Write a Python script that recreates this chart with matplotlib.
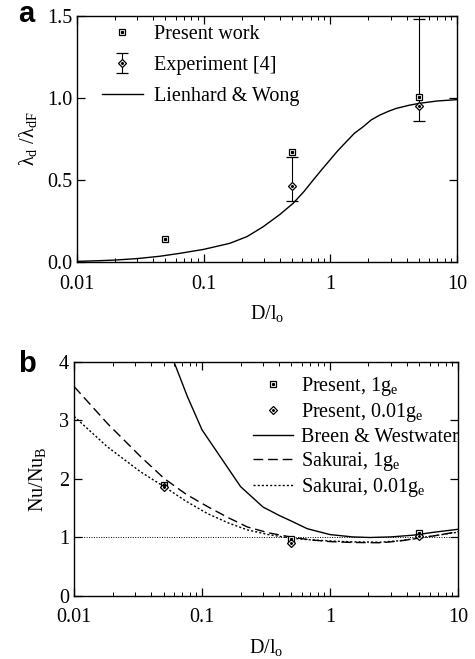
import matplotlib
matplotlib.use("Agg")
import matplotlib.pyplot as plt
from matplotlib.ticker import LogLocator, NullFormatter, FixedLocator
from matplotlib.legend_handler import HandlerTuple

plt.rcParams["font.family"] = ["Liberation Serif", "DejaVu Serif"]
plt.rcParams["mathtext.fontset"] = "custom"
plt.rcParams["mathtext.rm"] = "Liberation Serif"
plt.rcParams["mathtext.it"] = "Liberation Serif:italic"
FS = 14.5

# ── Panel a data ──────────────────────────────────────────────────────────────
present_x = [0.05, 0.5, 5.0]
present_y = [0.14, 0.673, 1.004]

exp_x = [0.5, 5.0]
exp_y = [0.463, 0.951]
exp_lo = [0.372, 0.862]
exp_hi = [0.642, 1.48]

lw_x = [0.01, 0.015, 0.02, 0.03, 0.045, 0.065, 0.1, 0.161, 0.22, 0.295, 0.4, 0.509,
        0.62, 0.733, 0.86, 0.993, 1.15, 1.34, 1.55, 1.82, 2.1, 2.46, 2.9, 3.33,
        4.2, 5.09, 7.0, 10.0]
lw_y = [0.004, 0.008, 0.012, 0.021, 0.035, 0.053, 0.077, 0.114, 0.155, 0.215, 0.29,
        0.358, 0.43, 0.50, 0.565, 0.622, 0.68, 0.734, 0.785, 0.825, 0.866, 0.896,
        0.92, 0.937, 0.956, 0.968, 0.982, 0.99]

# ── Panel b data ──────────────────────────────────────────────────────────────
p1_x = [0.05, 0.5, 5.0]
p1_y = [1.90, 0.97, 1.08]
p001_x = [0.05, 0.5, 5.0]
p001_y = [1.87, 0.91, 1.02]

bw_x = [0.0604, 0.0768, 0.1, 0.2, 0.3, 0.407, 0.5, 0.665, 1.0, 1.5, 2.05, 3.0, 4.48,
        6.5, 10.0]
bw_y = [4.0, 3.41, 2.84, 1.87, 1.52, 1.37, 1.28, 1.15, 1.05, 1.01, 1.0, 1.01, 1.04,
        1.09, 1.14]

sk1_x = [0.01, 0.0182, 0.0332, 0.0505, 0.075, 0.11, 0.16, 0.226, 0.33, 0.49, 0.7,
         1.0, 1.5, 2.5, 3.5, 5.0, 7.0, 10.0]
sk1_y = [3.58, 2.95, 2.38, 2.01, 1.74, 1.53, 1.34, 1.18, 1.08, 1.01, 0.96, 0.93,
         0.915, 0.91, 0.94, 0.99, 1.04, 1.10]

sk001_x = [0.01, 0.0182, 0.0332, 0.0505, 0.075, 0.11, 0.16, 0.226, 0.33, 0.49, 0.7,
           1.0, 1.5, 2.5, 3.5, 5.0, 7.0, 10.0]
sk001_y = [3.07, 2.55, 2.12, 1.87, 1.62, 1.41, 1.25, 1.13, 1.05, 0.99, 0.96, 0.94,
           0.925, 0.92, 0.945, 0.99, 1.04, 1.09]


def style_axis(ax):
    ax.set_xscale("log")
    ax.set_xlim(0.01, 10)
    ax.xaxis.set_major_locator(FixedLocator([0.01, 0.1, 1, 10]))
    ax.set_xticklabels(["0.01", "0.1", "1", "10"])
    ax.xaxis.set_minor_locator(LogLocator(base=10, subs=range(2, 10)))
    ax.xaxis.set_minor_formatter(NullFormatter())
    ax.tick_params(which="both", direction="in", top=True, right=True, labelsize=FS)
    ax.tick_params(which="major", length=6, width=0.9)
    ax.tick_params(which="minor", length=3, width=0.7)
    ax.tick_params(axis="x", pad=9)
    for s in ax.spines.values():
        s.set_linewidth(1.0)
    ax.set_xlabel("D/l$_\\mathrm{o}$", fontsize=FS, labelpad=7)


fig = plt.figure(figsize=(4.75, 6.59), dpi=100)
ax1 = fig.add_axes([0.162, 0.6024, 0.80, 0.3733])
ax2 = fig.add_axes([0.156, 0.0956, 0.808, 0.3551])

tuple_handler = {tuple: HandlerTuple(ndivide=1, pad=0)}

# ── Panel a ───────────────────────────────────────────────────────────────────
sq_out, = ax1.plot(present_x, present_y, ls="none", marker="s", ms=4.6,
                   mfc="white", mec="black", mew=0.9, zorder=4)
sq_in, = ax1.plot(present_x, present_y, ls="none", marker="s", ms=1.3,
                  color="black", zorder=5)
yerr = [[y - lo for y, lo in zip(exp_y, exp_lo)], [hi - y for y, hi in zip(exp_y, exp_hi)]]
eb = ax1.errorbar(exp_x, exp_y, yerr=yerr, fmt="D", ms=3.8, mfc="white", mec="black",
                  mew=0.9, ecolor="black", elinewidth=0.8, capsize=4, capthick=0.8, zorder=3)
dm_in, = ax1.plot(exp_x, exp_y, ls="none", marker="D", ms=1.1, color="black", zorder=5)
line_lw, = ax1.plot(lw_x, lw_y, color="black", lw=1.0)

ax1.set_ylim(0, 1.5)
style_axis(ax1)
ax1.yaxis.set_major_locator(FixedLocator([0, 0.5, 1.0, 1.5]))
ax1.set_yticklabels(["0.0", "0.5", "1.0", "1.5"])
ax1.set_ylabel("λ$_\\mathrm{d}$ /λ$_\\mathrm{dF}$", fontsize=FS, labelpad=6)
ax1.legend([(sq_out, sq_in), (eb, dm_in), line_lw],
           ["Present work", "Experiment [4]", "Lienhard & Wong"],
           handler_map=tuple_handler,
           loc="upper left", bbox_to_anchor=(0.019, 1.037), frameon=False,
           fontsize=FS, handlelength=2.0, handletextpad=0.55, labelspacing=0.6)

# ── Panel b ───────────────────────────────────────────────────────────────────
ax2.axhline(1.0, color="black", lw=0.7, ls=(0, (1, 1.5)), zorder=1)
p1_out, = ax2.plot(p1_x, p1_y, ls="none", marker="s", ms=4.3, mfc="white", mec="black",
                   mew=0.9, zorder=4)
p1_in, = ax2.plot(p1_x, p1_y, ls="none", marker="s", ms=1.2, color="black", zorder=5)
p2_out, = ax2.plot(p001_x, p001_y, ls="none", marker="D", ms=3.6, mfc="white",
                   mec="black", mew=0.9, zorder=4)
p2_in, = ax2.plot(p001_x, p001_y, ls="none", marker="D", ms=1.0, color="black", zorder=5)
bw_line, = ax2.plot(bw_x, bw_y, color="black", lw=1.0)
sk1_line, = ax2.plot(sk1_x, sk1_y, color="black", lw=1.0, ls=(0, (7, 3.5)))
sk2_line, = ax2.plot(sk001_x, sk001_y, color="black", lw=1.0, ls=(0, (1.5, 1.5)))

ax2.set_ylim(0, 4)
style_axis(ax2)
ax2.yaxis.set_major_locator(FixedLocator([0, 1, 2, 3, 4]))
ax2.set_ylabel("Nu/Nu$_\\mathrm{B}$", fontsize=FS, labelpad=8)
ax2.legend([(p1_out, p1_in), (p2_out, p2_in), bw_line, sk1_line, sk2_line],
           ["Present, 1g$_\\mathrm{e}$", "Present, 0.01g$_\\mathrm{e}$", "Breen & Westwater",
            "Sakurai, 1g$_\\mathrm{e}$", "Sakurai, 0.01g$_\\mathrm{e}$"],
           handler_map=tuple_handler,
           loc="upper left", bbox_to_anchor=(0.419, 1.02), frameon=False,
           fontsize=FS, handlelength=2.0, handletextpad=0.4, labelspacing=0.15)

fig.text(0.038, 0.9666, "a", fontsize=21, fontweight="bold", family="Liberation Sans",
         va="baseline")
fig.text(0.038, 0.4355, "b", fontsize=21, fontweight="bold", family="Liberation Sans",
         va="baseline")

fig.savefig("out.png", dpi=100)
